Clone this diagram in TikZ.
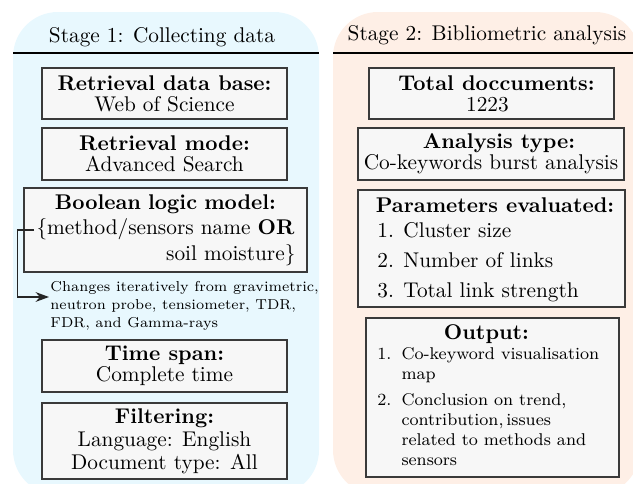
\documentclass[tikz,border=0pt]{standalone}
\usetikzlibrary{arrows.meta,calc}
\definecolor{stageblue}{HTML}{E8F8FE}
\definecolor{stagepeach}{HTML}{FEEFE6}
\definecolor{boxfill}{HTML}{F7F7F7}
\definecolor{boxline}{HTML}{3A3A3A}
\newcommand\pxu{0.4695pt}
\begin{document}
\begin{tikzpicture}[x=\pxu,y=-\pxu,
  panel/.style={rounded corners=21.1pt},
  headrule/.style={draw=black, line width=0.55pt},
  stagetitle/.style={anchor=base, inner sep=0pt, font=\normalsize},
  infobox/.style={draw=boxline, fill=boxfill, line width=0.7pt, inner sep=0pt,
    align=center, font=\fontsize{10}{10}\selectfont},
  boxtitle/.style={anchor=base, inner sep=0pt, font=\bfseries},
  boxtext/.style={inner sep=0pt, align=left, anchor=north west},
  note/.style={inner sep=0pt, align=left, anchor=north west, font=\fontsize{6.75}{8.5}\selectfont},
  arr/.style={draw=black!85, line width=0.55pt, -{Stealth[length=6.3pt,width=4.6pt]}},
]
\useasboundingbox (0,0) rectangle (633,483);
\clip (0,0) rectangle (633,483);

% stage panels with their header rules
\fill[stageblue, panel] (13,12) rectangle (319,495);
\fill[stagepeach, panel] (333,12) rectangle (640,495);
\draw[headrule] (13,53) -- (319,53);
\draw[headrule] (333,53) -- (640,53);
\node[stagetitle] (title1) at (162,42.5) {Stage 1: Collecting data};
\node[stagetitle] (title2) at (487,40.5) {Stage 2: Bibliometric analysis};

% stage 1: collecting data
\node[infobox, minimum width=115pt, minimum height=23.9pt] (database) at (164.5,93.5)
  {\textbf{Retrieval data base:}\\Web of Science};
\node[infobox, minimum width=115pt, minimum height=24.4pt] (mode) at (164.5,154)
  {\textbf{Retrieval mode:}\\Advanced Search};
\node[infobox, minimum width=132.9pt, minimum height=39.4pt, text width=122pt,
  inner xsep=5.45pt, font=\fontsize{10}{12}\selectfont] (boolean) at (165.5,230)
  {\textbf{Boolean logic model:}\\\mbox{\{method/sensors name \textbf{OR}}\\\hspace*{\fill}soil moisture\}};
\node[note] (changes) at (50,281)
  {Changes iteratively from gravimetric,\\neutron probe, tensiometer, TDR,\\FDR, and Gamma-rays};
\node[infobox, minimum width=115pt, minimum height=24.4pt] (timespan) at (164.5,366)
  {\textbf{Time span:}\\Complete time};
\node[infobox, minimum width=115pt, minimum height=35.7pt,
  font=\fontsize{10}{10.8}\selectfont] (filtering) at (164.5,441)
  {\textbf{Filtering:}\\Language: English\\Document type: All};

% connector from the search term to the list of method names
\coordinate (bracept) at ($(boolean.west)+(11,0)$);
\coordinate (elbow) at ($(boolean.west)+(-6,67)$);
\coordinate (notetip) at ($(changes.north west)+(-1,16)$);
\draw[arr] (bracept) -| (elbow) |- (notetip);

% stage 2: bibliometric analysis
\node[infobox, minimum width=115pt, minimum height=23.9pt] (total) at (491.5,93.5)
  {\hspace*{4.7pt}\textbf{Total doccuments:}\\1223\hspace*{3.8pt}};
\node[infobox, minimum width=124.9pt, minimum height=24.4pt] (analysis) at (491,154)
  {\hspace*{7.5pt}\textbf{Analysis type:}\\Co-keywords burst analysis};
\node[infobox, minimum width=125.4pt, minimum height=54.9pt] (params) at (491.5,248.5) {};
\node[boxtitle] (paramtitle) at (495,212) {Parameters evaluated:};
\node[boxtext, font=\fontsize{10}{12}\selectfont] (paramlist) at (377,222.2)
  {1.\hspace{4.4pt}Cluster size\\[2.1pt]2.\hspace{4.4pt}Number of links\\[2.1pt]3.\hspace{4.4pt}Total link strength};
\node[infobox, minimum width=118.8pt, minimum height=74.7pt] (output) at (492.5,397.5) {};
\node[boxtitle] (outtitle) at (486.5,339) {Output:};
\node[boxtext, font=\fontsize{8}{9.4}\selectfont] (outlist) at (377,347.2)
  {1.\hspace{4.7pt}Co-keyword visualisation\\
   \hphantom{1.}\hspace{4.7pt}map\\[2.6pt]
   2.\hspace{4.7pt}Conclusion on trend,\\
   \hphantom{2.}\hspace{4.7pt}contribution,\,issues\\
   \hphantom{2.}\hspace{4.7pt}related to methods and\\
   \hphantom{2.}\hspace{4.7pt}sensors};
\end{tikzpicture}
\end{document}
